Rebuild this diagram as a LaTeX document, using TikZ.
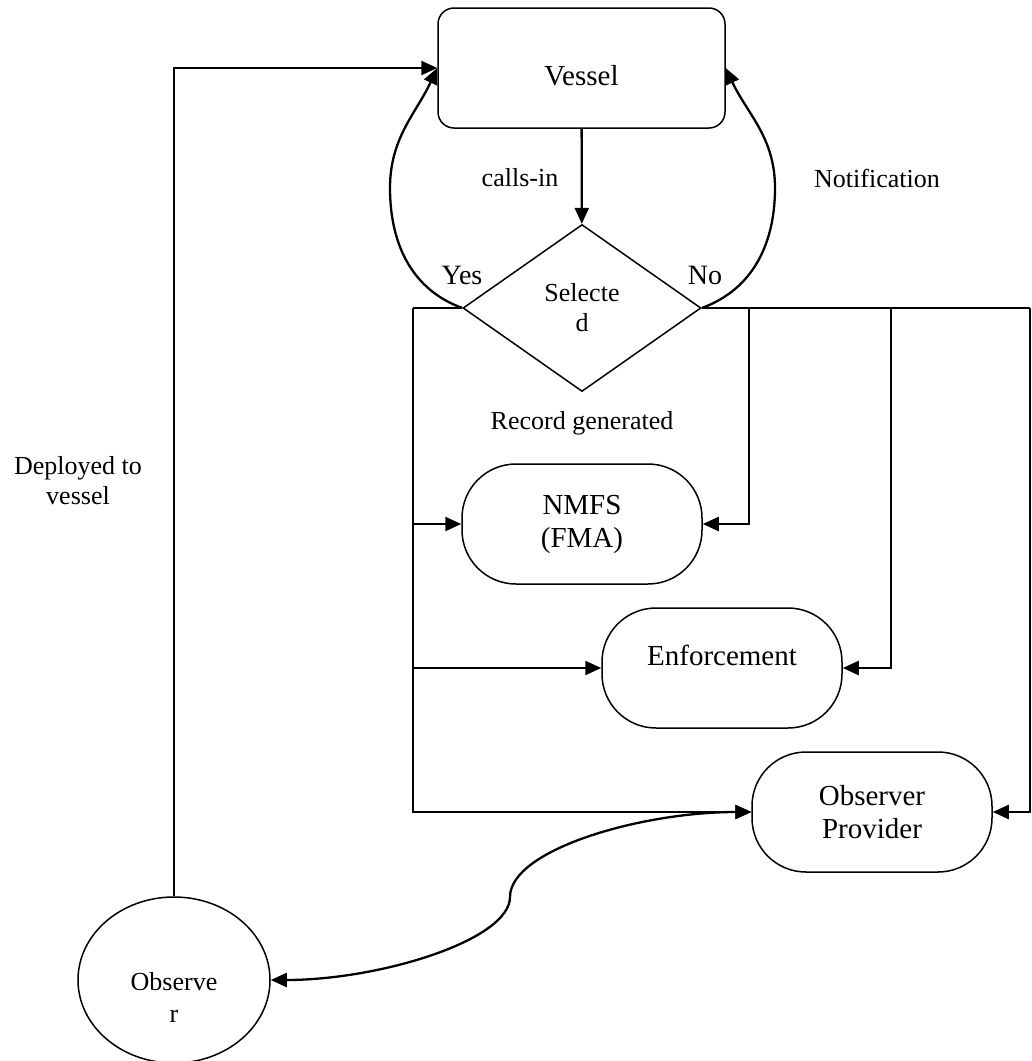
\documentclass[tikz,border=0pt]{standalone}
\usepackage{fontspec}
\setmainfont{Liberation Serif}
\usetikzlibrary{arrows.meta,shapes.geometric}

\begin{document}
\begin{tikzpicture}[x=0.5pt,y=-0.5pt,
    box/.style={draw,line width=0.75pt,align=center,font=\fontsize{14.5}{16.5}\selectfont},
    pill/.style={box,rounded corners=27pt,minimum width=120pt,minimum height=60pt},
    lbl/.style={align=center,font=\fontsize{13}{15}\selectfont},
    conn/.style={line width=1.15pt},
    arr/.style={conn,-{Triangle[length=8pt,width=7pt]}},
    dbl/.style={conn,{Triangle[length=8pt,width=7pt]}-{Triangle[length=8pt,width=7pt]}}]
\useasboundingbox (0,0) rectangle (1032,1061);

\begin{scope}
    \node[box,rounded corners=8pt,minimum width=143.5pt,minimum height=60pt,
          text height=18pt] (ves) at (581.5,68) {Vessel};
    \node[box,diamond,minimum width=119pt,minimum height=83.5pt,inner sep=0pt,
          font=\fontsize{13}{15}\selectfont] (sel) at (582,308) {Selecte\\d};
    \node[pill] (nmfs) at (582,524) {NMFS\\(FMA)};
    \node[pill,text depth=13pt] (enf) at (722,668) {Enforcement};
    \node[pill] (op)   at (872,812) {Observer\\Provider};
    \node[box,ellipse,minimum width=96pt,minimum height=83pt,inner sep=0pt,
          text height=42pt,font=\fontsize{13}{16}\selectfont] (obs) at (174,980) {Observe\\r};
\end{scope}

\begin{scope}[every node/.style={lbl}]
    \node (callsin) at (520,178) {calls-in};
    \node (notif)   at (877,178) {Notification};
    \node[font=\fontsize{14}{16}\selectfont] (yes) at (462,275) {Yes};
    \node[font=\fontsize{14}{16}\selectfont] (no)  at (705,275) {No};
    \node (rec)     at (582,423) {Record generated};
    \node (depl)    at (78,481)  {Deployed to\\vessel};
\end{scope}

\coordinate (lbend) at (390,188);
\coordinate (rbend) at (775,188);
\coordinate (ltop) at (413,308);
\coordinate (rtop) at (1030,308);
\coordinate (nmfsdrop) at (749,308);
\coordinate (enfdrop) at (891,308);
\coordinate (swing) at (510,897);

\draw[arr] (ves) -- (sel);
\draw[arr] (sel.west) to[out=160,in=-90] (lbend) to[out=90,in=-115] (ves.west);
\draw[arr] (sel.east) to[out=20,in=-90] (rbend) to[out=90,in=-65] (ves.east);
\draw[conn] (sel.west) -- (ltop);
\draw[arr] (ltop) |- (op.west);
\draw[arr] (ltop |- nmfs.west) -- (nmfs.west);
\draw[arr] (ltop |- enf.west) -- (enf.west);
\draw[conn] (sel.east) -- (rtop);
\draw[arr] (nmfsdrop) |- (nmfs.east);
\draw[arr] (enfdrop) |- (enf.east);
\draw[arr] (rtop) |- (op.east);
\draw[arr] (obs.north) |- (ves.west);
\draw[dbl] (op.west) .. controls (640,812) and (510,850) .. (swing)
                     .. controls (510,940) and (380,980) .. (obs.east);
\end{tikzpicture}
\end{document}
